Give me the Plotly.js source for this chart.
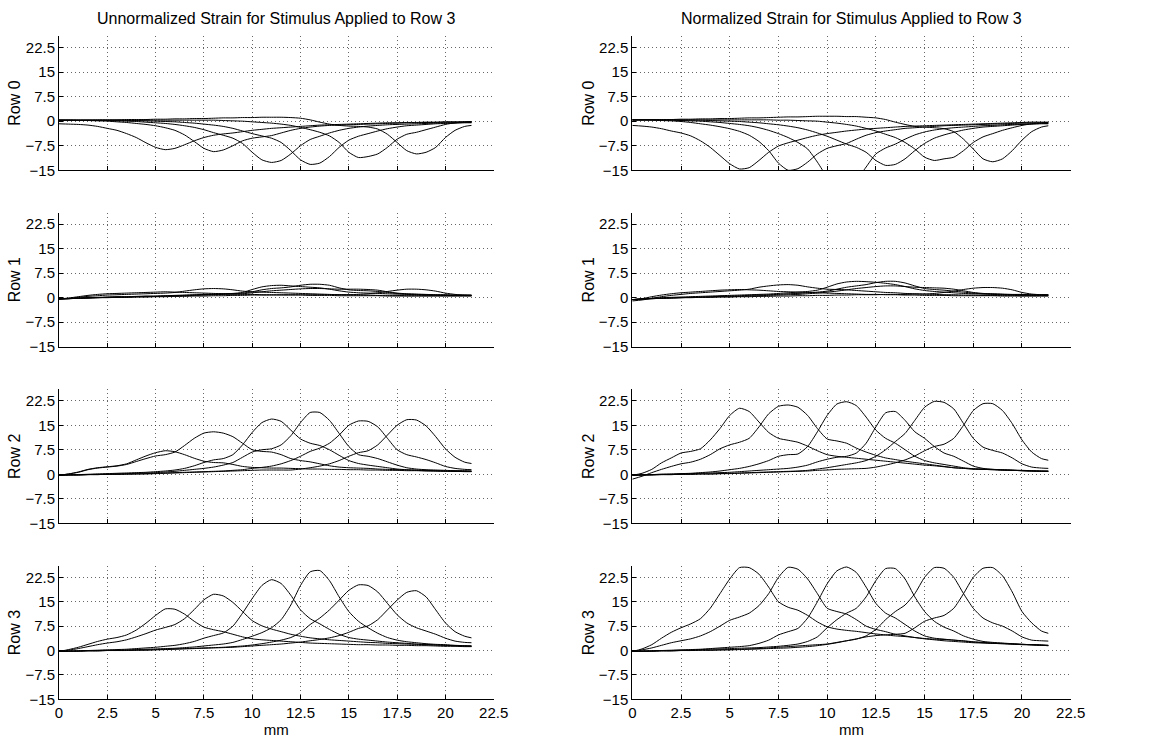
<!DOCTYPE html>
<html>
<head>
<meta charset="utf-8">
<script src="https://cdn.plot.ly/plotly-3.0.1.min.js"></script>
<style>
  html, body { margin: 0; padding: 0; background: #fff; }
  #chart { width: 1151px; height: 744px; }
</style>
</head>
<body>
<div id="chart"></div>
<script>
// Sample positions along the strip (mm)
const mm = [0,0.5,1,1.5,2,2.5,3,3.5,4,4.5,5,
  5.5,6,6.5,7,7.5,8,8.5,9,9.5,10,10.5,
  11,11.5,12,12.5,13,13.5,14,14.5,15,15.5,16,
  16.5,17,17.5,18,18.5,19,19.5,20,20.5,21,21.35];

const xTicks = [0,2.5,5,7.5,10,12.5,15,17.5,20,22.5];
const yTicks = [-15,-7.5,0,7.5,15,22.5];
const rowLabels = ['Row 0','Row 1','Row 2','Row 3'];
const colTitles = ['Unnormalized Strain for Stimulus Applied to Row 3',
                   'Normalized Strain for Stimulus Applied to Row 3'];

// Unnormalized strain, one curve per stimulus location
const uRow0 = [
  [-0.8,-0.9,-1.0,-1.2,-1.6,-2.2,-2.8,-3.8,-5.0,-6.6,-8.0, -8.7,-8.3,-7.2,-6.0,-5.0,-4.3,-3.9,-3.6,-3.2,-2.8,-2.5, -2.2,-2.0,-1.8,-1.6,-1.4,-1.2,-1.1,-1.0,-0.9,-0.8,-0.7, -0.6,-0.5,-0.5,-0.4,-0.4,-0.3,-0.3,-0.2,-0.2,-0.2,-0.2],
  [0.3,0.3,0.2,0.2,0.1,0.0,-0.2,-0.4,-0.7,-1.0,-1.4, -2.0,-2.8,-4.2,-6.2,-8.3,-9.3,-8.8,-7.5,-6.0,-5.2,-4.8, -4.4,-3.6,-2.8,-2.2,-1.8,-1.5,-1.3,-1.2,-1.1,-1.0,-0.9, -0.8,-0.7,-0.6,-0.5,-0.5,-0.4,-0.4,-0.3,-0.3,-0.3,-0.3],
  [0.3,0.3,0.3,0.3,0.2,0.2,0.1,0.0,-0.1,-0.3,-0.5, -0.7,-1.0,-1.4,-1.9,-2.6,-3.5,-4.3,-5.2,-6.8,-9.5,-11.8, -12.6,-12.0,-10.0,-7.5,-5.6,-4.6,-3.6,-2.8,-2.2,-1.8,-1.5, -1.3,-1.1,-1.0,-0.9,-0.8,-0.7,-0.6,-0.5,-0.5,-0.4,-0.4],
  [0.3,0.3,0.3,0.3,0.3,0.3,0.3,0.2,0.2,0.1,0.0, -0.1,-0.2,-0.4,-0.6,-0.9,-1.2,-1.6,-2.2,-3.0,-3.8,-4.5, -5.2,-6.5,-9.0,-11.8,-13.2,-12.8,-10.8,-8.0,-5.8,-4.6,-3.8, -3.0,-2.3,-1.8,-1.4,-1.2,-1.0,-0.8,-0.7,-0.6,-0.5,-0.5],
  [0.3,0.3,0.3,0.3,0.3,0.3,0.3,0.3,0.3,0.3,0.3, 0.3,0.3,0.3,0.3,0.3,0.3,0.2,0.1,0.0,-0.2,-0.4, -0.6,-0.9,-1.3,-1.9,-2.6,-3.4,-4.5,-6.5,-9.5,-11.1,-10.8, -10.0,-8.0,-5.5,-4.0,-3.4,-2.6,-1.8,-1.0,-0.5,-0.2,-0.1],
  [0.3,0.3,0.3,0.3,0.4,0.4,0.4,0.5,0.5,0.5,0.6, 0.6,0.7,0.7,0.8,0.8,0.9,1.0,1.0,1.1,1.1,1.2, 1.2,1.2,1.1,0.9,0.4,-0.3,-0.9,-1.3,-1.5,-1.6,-1.8, -2.4,-4.0,-6.5,-9.0,-10.0,-9.5,-8.0,-5.0,-2.8,-1.6,-1.3]
];
const uRow1 = [
  [-0.4,-0.1,0.3,0.7,1.0,1.2,1.3,1.4,1.5,1.6,1.7, 1.8,1.7,1.6,1.5,1.4,1.3,1.2,1.1,1.0,1.0,0.9, 0.9,0.8,0.8,0.8,0.7,0.7,0.7,0.6,0.6,0.6,0.6, 0.6,0.5,0.5,0.5,0.5,0.5,0.5,0.5,0.5,0.5,0.5],
  [-0.4,-0.2,0.1,0.4,0.6,0.8,0.9,1.0,1.1,1.2,1.3, 1.4,1.6,2.0,2.4,2.7,2.8,2.7,2.4,2.0,1.8,1.7, 1.6,1.5,1.4,1.3,1.2,1.1,1.0,0.9,0.9,0.8,0.8, 0.7,0.7,0.7,0.6,0.6,0.6,0.6,0.6,0.6,0.6,0.6],
  [-0.4,-0.3,-0.1,0.0,0.1,0.2,0.3,0.3,0.4,0.5,0.5, 0.6,0.7,0.8,0.9,1.0,1.1,1.2,1.3,1.6,2.5,3.3, 3.7,3.8,3.6,3.4,3.2,3.0,2.6,2.1,1.7,1.5,1.4, 1.3,1.2,1.1,1.0,0.9,0.8,0.8,0.7,0.7,0.7,0.7],
  [-0.4,-0.3,-0.2,-0.1,0.0,0.1,0.2,0.2,0.3,0.4,0.4, 0.5,0.6,0.7,0.8,0.9,1.0,1.1,1.2,1.4,1.8,2.4, 2.8,3.0,3.3,3.8,4.1,4.1,3.8,3.0,2.4,2.2,2.1, 1.9,1.6,1.3,1.1,1.0,0.9,0.8,0.8,0.7,0.7,0.7],
  [-0.4,-0.3,-0.2,-0.1,0.0,0.1,0.1,0.2,0.3,0.3,0.4, 0.5,0.5,0.6,0.7,0.8,0.9,1.0,1.1,1.2,1.5,1.8, 2.1,2.3,2.5,2.7,2.8,2.8,2.7,2.6,2.6,2.6,2.5, 2.3,1.8,1.4,1.2,1.1,1.0,0.9,0.9,0.8,0.8,0.8],
  [-0.4,-0.3,-0.2,-0.1,0.0,0.0,0.1,0.1,0.2,0.2,0.3, 0.3,0.4,0.4,0.5,0.5,0.6,0.6,0.7,0.7,0.8,0.8, 0.8,0.9,0.9,0.9,0.9,0.9,0.9,0.9,0.9,1.0,1.2, 1.5,1.9,2.3,2.6,2.6,2.4,2.0,1.4,1.0,0.8,0.7]
];
const uRow2 = [
  [-0.3,0.1,0.7,1.5,2.0,2.3,2.6,3.2,4.4,5.6,6.6, 7.2,6.9,6.0,4.9,4.0,3.6,3.5,3.0,2.4,2.1,2.0, 1.9,1.9,1.8,1.7,1.6,1.6,1.5,1.5,1.4,1.4,1.3, 1.3,1.2,1.2,1.1,1.1,1.0,1.0,1.0,0.9,0.9,0.9],
  [-0.3,0.1,0.6,1.4,1.9,2.2,2.5,3.0,3.9,4.8,5.6, 6.0,6.8,8.8,11.0,12.6,13.0,12.6,11.5,9.5,7.5,7.0, 6.8,6.0,4.8,4.2,3.8,3.2,2.6,2.2,2.0,1.9,1.8, 1.6,1.5,1.4,1.3,1.2,1.1,1.0,0.9,0.9,0.8,0.8],
  [-0.3,-0.2,-0.1,0.0,0.1,0.2,0.3,0.4,0.5,0.6,0.8, 1.0,1.3,1.8,2.6,3.6,4.4,4.8,6.0,9.0,12.8,15.8, 16.9,16.2,13.5,10.8,9.5,8.8,7.5,5.8,4.2,3.3,2.8, 2.4,2.0,1.6,1.4,1.3,1.2,1.1,1.0,1.0,0.9,0.9],
  [-0.3,-0.2,-0.2,-0.1,0.0,0.0,0.1,0.2,0.3,0.4,0.5, 0.7,0.9,1.2,1.5,1.8,2.2,2.8,3.6,5.2,6.8,7.5, 7.8,9.0,11.8,15.8,18.9,18.9,16.5,12.5,8.5,6.0,5.5, 4.8,3.8,2.8,2.0,1.6,1.4,1.3,1.2,1.1,1.1,1.0],
  [-0.3,-0.2,-0.2,-0.1,-0.1,0.0,0.0,0.1,0.1,0.2,0.3, 0.4,0.5,0.6,0.7,0.8,0.9,1.0,1.2,1.4,1.8,2.1, 2.5,3.2,4.2,5.5,7.0,8.0,9.5,12.0,15.0,16.3,16.2, 14.5,11.0,7.5,6.0,5.3,4.5,3.5,2.4,1.8,1.5,1.4],
  [-0.3,-0.2,-0.2,-0.1,-0.1,0.0,0.0,0.0,0.1,0.1,0.2, 0.3,0.4,0.5,0.6,0.7,0.8,0.9,1.0,1.1,1.2,1.3, 1.3,1.3,1.3,1.6,2.0,2.5,3.2,4.2,5.5,6.6,7.2, 9.0,12.0,15.0,16.7,16.6,14.8,11.5,7.8,5.2,3.7,3.3]
];
const uRow3 = [
  [-0.3,0.3,1.0,1.9,2.8,3.5,4.0,4.8,6.3,8.4,10.8, 12.8,12.7,11.2,9.0,7.2,6.4,5.8,5.0,4.2,3.6,3.3, 3.1,2.9,2.7,2.5,2.3,2.2,2.1,2.0,1.9,1.8,1.8, 1.7,1.7,1.6,1.6,1.5,1.5,1.4,1.3,1.3,1.2,1.2],
  [-0.3,0.1,0.6,1.2,1.8,2.3,2.7,3.3,4.2,5.2,6.3, 7.1,8.0,9.8,12.6,15.6,17.3,16.8,14.8,12.0,9.2,7.6, 6.6,5.8,5.0,4.4,3.9,3.6,3.3,3.1,2.9,2.7,2.5, 2.4,2.2,2.1,2.0,1.9,1.8,1.7,1.6,1.5,1.4,1.4],
  [-0.3,-0.2,-0.1,0.0,0.1,0.2,0.3,0.4,0.6,0.8,1.0, 1.3,1.6,2.1,2.8,3.8,4.6,5.4,7.5,11.5,16.0,20.0, 21.8,20.6,17.0,12.5,9.8,8.2,6.5,5.0,4.0,3.5,3.2, 2.9,2.6,2.4,2.2,2.0,1.9,1.7,1.6,1.5,1.4,1.3],
  [-0.3,-0.2,-0.1,0.0,0.0,0.1,0.1,0.2,0.3,0.4,0.5, 0.6,0.7,0.9,1.1,1.4,1.7,2.0,2.5,3.4,4.4,5.5, 7.0,9.5,14.0,20.0,24.2,24.6,21.5,16.5,12.0,9.0,7.0, 5.3,4.0,3.2,2.7,2.4,2.1,1.9,1.8,1.6,1.5,1.4],
  [-0.3,-0.2,-0.2,-0.1,-0.1,0.0,0.0,0.1,0.1,0.2,0.3, 0.4,0.5,0.6,0.7,0.8,0.9,1.0,1.2,1.4,1.7,2.1, 2.6,3.2,4.0,5.5,8.0,10.0,12.5,15.5,18.5,20.2,20.0, 18.0,14.5,11.0,8.5,7.0,6.0,5.0,3.8,2.9,2.5,2.4],
  [-0.3,-0.2,-0.2,-0.1,-0.1,0.0,0.0,0.0,0.1,0.1,0.2, 0.3,0.4,0.5,0.6,0.7,0.8,0.9,1.0,1.2,1.4,1.6, 1.8,2.0,2.3,2.6,3.0,3.4,3.9,4.6,5.6,6.8,7.6, 9.5,12.5,15.5,17.9,18.4,16.5,12.5,8.5,5.8,4.4,3.9]
];

// Normalized strain, same stimulus locations
const nRow0 = [
  [-1.3,-1.5,-1.8,-2.3,-3.0,-3.6,-4.5,-6.0,-8.0,-10.5,-13.0, -14.6,-14.2,-12.0,-9.5,-7.6,-6.6,-5.8,-5.0,-4.3,-3.8,-3.4, -3.0,-2.7,-2.4,-2.2,-2.0,-1.8,-1.6,-1.5,-1.4,-1.3,-1.2, -1.1,-1.0,-0.9,-0.8,-0.7,-0.6,-0.5,-0.4,-0.3,-0.3,-0.3],
  [0.4,0.4,0.3,0.2,0.1,-0.1,-0.4,-0.8,-1.2,-1.7,-2.3, -3.1,-4.3,-6.2,-9.0,-12.8,-15.0,-14.5,-12.5,-10.0,-8.3,-7.5, -6.8,-5.5,-4.3,-3.5,-3.0,-2.6,-2.2,-2.0,-1.8,-1.6,-1.4, -1.3,-1.2,-1.1,-1.0,-0.9,-0.8,-0.7,-0.6,-0.5,-0.5,-0.5],
  [0.4,0.4,0.4,0.3,0.3,0.2,0.1,0.0,-0.2,-0.4,-0.7, -1.0,-1.4,-2.0,-2.8,-3.8,-5.0,-6.5,-8.5,-12.5,-17.0,-19.5, -20.0,-18.0,-14.0,-10.0,-8.2,-7.0,-5.5,-4.2,-3.3,-2.7,-2.3, -2.0,-1.8,-1.6,-1.4,-1.3,-1.1,-1.0,-0.9,-0.8,-0.7,-0.7],
  [0.4,0.4,0.4,0.4,0.4,0.3,0.3,0.3,0.2,0.1,0.0, -0.1,-0.3,-0.5,-0.8,-1.1,-1.5,-2.0,-2.7,-3.6,-4.6,-5.8, -7.0,-8.0,-9.5,-12.0,-13.5,-13.2,-11.5,-9.0,-6.8,-5.2,-4.2, -3.4,-2.7,-2.2,-1.8,-1.6,-1.4,-1.2,-1.0,-0.9,-0.8,-0.8],
  [0.4,0.4,0.4,0.4,0.4,0.4,0.4,0.4,0.4,0.4,0.4, 0.4,0.4,0.4,0.4,0.3,0.3,0.2,0.1,0.0,-0.3,-0.6, -1.0,-1.5,-2.2,-3.0,-4.0,-5.0,-6.5,-8.5,-11.0,-12.0,-11.5, -11.0,-9.0,-6.5,-4.8,-3.8,-2.8,-2.0,-1.3,-0.8,-0.5,-0.4],
  [0.4,0.4,0.5,0.5,0.5,0.6,0.6,0.7,0.7,0.8,0.8, 0.9,1.0,1.0,1.1,1.2,1.3,1.3,1.4,1.5,1.5,1.5, 1.4,1.4,1.2,1.0,0.5,-0.3,-1.0,-1.6,-1.8,-2.0,-2.3, -3.2,-5.5,-8.5,-11.5,-12.4,-11.5,-9.0,-5.8,-3.2,-1.8,-1.4]
];
const nRow1 = [
  [-0.6,-0.3,0.3,0.8,1.2,1.5,1.7,1.9,2.1,2.3,2.4, 2.5,2.4,2.3,2.1,1.9,1.8,1.7,1.6,1.5,1.4,1.3, 1.2,1.1,1.0,1.0,0.9,0.9,0.8,0.8,0.7,0.7,0.7, 0.6,0.6,0.6,0.6,0.6,0.5,0.5,0.5,0.5,0.5,0.5],
  [-1.0,-0.7,-0.2,0.3,0.7,1.0,1.3,1.5,1.7,1.9,2.1, 2.3,2.6,3.2,3.6,3.9,4.0,3.8,3.3,2.9,2.6,2.5, 2.4,2.2,2.0,1.8,1.6,1.5,1.3,1.2,1.1,1.0,0.9, 0.9,0.8,0.8,0.7,0.7,0.7,0.7,0.6,0.6,0.6,0.6],
  [-0.6,-0.4,-0.2,0.0,0.1,0.2,0.3,0.4,0.5,0.6,0.7, 0.8,0.9,1.0,1.1,1.3,1.5,1.7,1.9,2.3,3.2,4.2, 4.8,5.0,4.9,4.7,4.4,4.0,3.4,2.7,2.2,1.9,1.7, 1.5,1.3,1.2,1.1,1.0,0.9,0.9,0.8,0.8,0.8,0.8],
  [-0.6,-0.4,-0.3,-0.2,-0.1,0.0,0.1,0.2,0.3,0.4,0.5, 0.6,0.7,0.8,0.9,1.0,1.2,1.3,1.5,1.7,2.0,2.6, 3.2,3.6,4.0,4.6,5.0,5.0,4.5,3.6,2.8,2.5,2.3, 2.0,1.7,1.4,1.2,1.1,1.0,0.9,0.9,0.8,0.8,0.8],
  [-0.6,-0.4,-0.3,-0.2,-0.1,0.0,0.1,0.1,0.2,0.3,0.3, 0.4,0.5,0.6,0.7,0.8,0.9,1.0,1.2,1.4,1.7,2.0, 2.4,2.8,3.1,3.4,3.6,3.6,3.4,3.2,3.1,3.0,2.9, 2.6,2.1,1.6,1.3,1.2,1.1,1.0,1.0,0.9,0.9,0.9],
  [-0.6,-0.4,-0.3,-0.2,-0.1,0.0,0.0,0.1,0.1,0.2,0.2, 0.3,0.3,0.4,0.4,0.5,0.5,0.6,0.6,0.7,0.7,0.8, 0.8,0.9,0.9,0.9,1.0,1.0,1.0,1.1,1.1,1.3,1.6, 2.0,2.5,2.9,3.1,3.1,2.9,2.4,1.6,1.1,0.9,0.8]
];
const nRow2 = [
  [-0.3,0.3,1.5,3.5,5.0,6.5,7.0,7.8,10.5,14.0,18.0, 20.2,19.2,16.0,12.8,11.0,10.4,9.8,8.6,7.2,6.0,5.5, 5.2,4.9,4.6,4.3,4.0,3.7,3.4,3.1,2.8,2.6,2.3, 2.0,1.8,1.6,1.5,1.4,1.3,1.2,1.1,1.0,1.0,0.9],
  [-1.5,-0.6,0.5,1.5,2.4,3.2,3.7,4.6,6.0,7.8,9.0, 9.8,11.0,14.5,18.5,20.8,21.2,20.5,18.0,14.0,10.8,10.2, 9.5,8.0,6.8,5.8,5.0,4.5,4.0,3.6,3.2,2.8,2.4, 2.0,1.8,1.6,1.5,1.4,1.3,1.2,1.1,1.0,0.9,0.9],
  [-0.3,-0.2,-0.1,0.0,0.1,0.2,0.3,0.5,0.7,1.0,1.4, 1.8,2.4,3.2,4.2,5.5,6.0,6.2,8.5,13.0,18.0,21.5, 22.2,21.0,17.5,13.5,11.0,9.5,7.5,5.5,4.2,3.5,3.0, 2.5,2.0,1.7,1.6,1.5,1.4,1.3,1.2,1.1,1.0,1.0],
  [-0.3,-0.2,-0.1,0.0,0.0,0.1,0.2,0.3,0.4,0.5,0.6, 0.8,1.0,1.2,1.4,1.6,1.8,2.2,2.8,3.8,4.6,5.2, 5.5,6.5,9.5,14.5,18.8,19.2,16.5,13.0,11.0,8.5,6.5, 5.5,4.0,2.5,1.8,1.5,1.3,1.2,1.1,1.0,0.9,0.9],
  [-0.3,-0.2,-0.2,-0.1,-0.1,0.0,0.0,0.1,0.1,0.2,0.3, 0.4,0.5,0.6,0.7,0.8,0.9,1.0,1.2,1.6,2.0,2.5, 3.0,3.5,4.2,5.5,7.5,10.0,12.5,16.5,20.5,22.3,22.0, 20.0,15.5,11.0,8.3,7.3,6.5,5.0,3.2,2.2,1.9,1.8],
  [-0.3,-0.2,-0.2,-0.1,-0.1,0.0,0.0,0.1,0.1,0.2,0.2, 0.3,0.4,0.5,0.6,0.7,0.8,0.9,1.0,1.2,1.3,1.5, 1.6,1.7,1.8,2.2,2.8,3.5,4.4,5.6,7.2,8.5,9.2, 11.0,15.0,19.5,21.6,21.6,19.5,15.5,10.5,6.8,4.8,4.3]
];
const nRow3 = [
  [-0.3,0.5,1.8,3.8,5.6,7.0,8.2,9.8,13.0,17.5,22.0, 25.5,25.5,23.5,19.5,15.0,13.3,12.4,10.8,8.8,7.3,6.6, 6.2,5.9,5.5,5.1,4.8,4.5,4.3,4.0,3.7,3.5,3.4, 3.2,3.0,2.7,2.5,2.3,2.2,2.0,1.8,1.7,1.6,1.5],
  [-0.3,0.2,0.8,1.6,2.4,3.0,3.6,4.5,5.8,7.5,9.3, 10.3,11.5,13.8,17.5,22.5,25.6,25.0,22.0,17.5,13.0,12.0, 11.2,9.5,7.5,6.5,5.8,5.0,4.5,4.0,3.6,3.3,3.0, 2.8,2.6,2.4,2.3,2.2,2.1,2.0,1.9,1.8,1.7,1.6],
  [-0.3,-0.2,-0.1,0.0,0.1,0.2,0.3,0.4,0.6,0.8,1.0, 1.2,1.5,2.2,3.2,4.8,5.8,6.8,10.0,15.0,20.5,24.5, 25.7,24.0,19.5,14.5,11.5,10.0,8.0,6.0,4.5,3.8,3.5, 3.2,2.9,2.6,2.4,2.2,2.1,2.0,1.9,1.8,1.7,1.6],
  [-0.3,-0.2,-0.1,0.0,0.0,0.1,0.2,0.3,0.4,0.5,0.6, 0.7,0.8,0.9,1.1,1.3,1.6,2.0,2.8,4.2,7.0,9.5, 11.5,13.0,16.5,21.5,25.2,25.2,22.0,16.5,12.0,9.0,7.2, 6.0,4.5,3.5,2.8,2.5,2.3,2.1,1.9,1.8,1.6,1.5],
  [-0.3,-0.2,-0.2,-0.1,-0.1,0.0,0.0,0.1,0.1,0.2,0.3, 0.4,0.5,0.6,0.8,1.0,1.2,1.4,1.6,1.8,2.0,2.5, 3.0,3.5,4.5,6.5,9.5,12.0,14.0,17.5,22.5,25.5,25.3, 22.5,17.5,13.0,10.0,8.5,7.5,6.0,4.2,3.2,3.0,2.9],
  [-0.3,-0.2,-0.2,-0.1,-0.1,0.0,0.0,0.1,0.1,0.2,0.2, 0.3,0.4,0.5,0.6,0.7,0.8,1.0,1.2,1.5,1.9,2.4, 3.0,3.6,4.2,4.6,4.8,5.0,5.3,7.0,9.0,10.0,10.8, 13.0,17.5,22.5,25.3,25.5,23.0,18.0,12.0,8.5,6.0,5.3]
];

// Panel grid: rows top to bottom, columns unnormalized | normalized
const panels = [
  [uRow0, nRow0],
  [uRow1, nRow1],
  [uRow2, nRow2],
  [uRow3, nRow3]
];

const W = 1151, H = 744;
// Plot-area pixel boxes
const colPx = [[59, 493.7], [632.3, 1070.7]];
const rowPx = [[36, 170.3], [212.7, 346.7], [389.3, 523.3], [566, 699.3]];

const FONT = 'Liberation Sans, Arial, Helvetica, sans-serif';
const traces = [];
const layout = {
  width: W, height: H,
  margin: {l: 0, r: 0, t: 0, b: 0},
  paper_bgcolor: '#fff',
  plot_bgcolor: '#fff',
  showlegend: false,
  font: {family: FONT, color: '#000', size: 15},
  annotations: []
};

for (let r = 0; r < 4; r++) {
  for (let c = 0; c < 2; c++) {
    const n = r * 2 + c + 1;
    const xa = n === 1 ? 'x' : 'x' + n;
    const ya = n === 1 ? 'y' : 'y' + n;
    panels[r][c].forEach(vals => {
      traces.push({
        type: 'scatter', mode: 'lines',
        x: mm, y: vals, xaxis: xa, yaxis: ya,
        line: {color: '#000', width: 1, shape: 'spline', smoothing: 0.6},
        hoverinfo: 'skip'
      });
    });
    const common = {
      ticks: 'inside', ticklen: 4, tickwidth: 1, tickcolor: '#000',
      showline: true, linecolor: '#000', linewidth: 1,
      showgrid: true, gridcolor: 'rgba(0,0,0,0.6)', gridwidth: 1, griddash: '1px,3px',
      zeroline: false, fixedrange: true,
      tickfont: {family: FONT, size: 15, color: '#000'}
    };
    layout['xaxis' + (n === 1 ? '' : n)] = Object.assign({}, common, {
      domain: [colPx[c][0] / W, colPx[c][1] / W],
      anchor: ya,
      range: [0, 22.5],
      tickmode: 'array', tickvals: xTicks,
      showticklabels: r === 3,
      title: r === 3 ? {text: 'mm', font: {family: FONT, size: 15}, standoff: 1} : {text: ''}
    });
    layout['yaxis' + (n === 1 ? '' : n)] = Object.assign({}, common, {
      domain: [1 - rowPx[r][1] / H, 1 - rowPx[r][0] / H],
      anchor: xa,
      range: [-15, 26],
      tickmode: 'array', tickvals: yTicks,
      title: {text: rowLabels[r], font: {family: FONT, size: 16}, standoff: 0}
    });
  }
}

colTitles.forEach((t, c) => {
  layout.annotations.push({
    text: t, xref: 'paper', yref: 'paper',
    x: (colPx[c][0] + colPx[c][1]) / 2 / W, y: 1 - 18.5 / H,
    xanchor: 'center', yanchor: 'middle', showarrow: false,
    font: {family: FONT, size: 16, color: '#000'}
  });
});

Plotly.newPlot('chart', traces, layout, {staticPlot: true, displayModeBar: false});
</script>
</body>
</html>
